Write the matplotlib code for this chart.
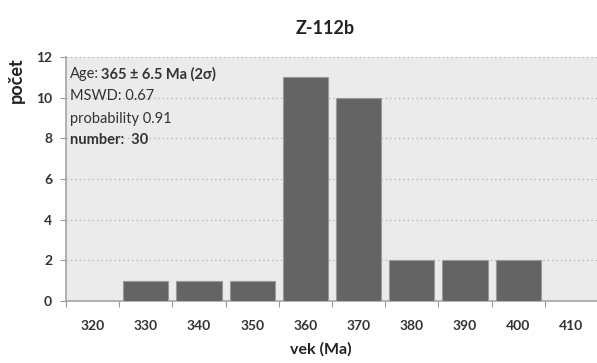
import matplotlib
matplotlib.use("Agg")
import matplotlib.pyplot as plt
import numpy as np

plt.rcParams['font.family'] = ['Lato', 'DejaVu Sans']

# Age bins (Ma) and zircon counts per bin
ages = [320, 330, 340, 350, 360, 370, 380, 390, 400, 410]
counts = [0, 1, 1, 1, 11, 10, 2, 2, 2, 0]
yticks = [0, 2, 4, 6, 8, 10, 12]

title = "Z-112b"
xlabel = "vek (Ma)"
ylabel = "počet"

fig = plt.figure(figsize=(5.97, 3.63), dpi=100)
ax = fig.add_axes([66/597, 1 - 301/363, 532/597, (301 - 57)/363])
ax.set_facecolor('#ebebeb')

pos = np.arange(len(ages))
ax.bar(pos, counts, width=0.85, color='#646464', edgecolor='#9a9a9a',
       linewidth=0.8, zorder=3)

ax.set_xlim(-0.5, len(ages) - 0.5)
ax.set_ylim(0, 12)

# category labels centred, tick marks on category boundaries
ax.set_xticks(pos)
ax.set_xticklabels([str(a) for a in ages], fontsize=10, fontweight='bold',
                   color='#333333')
ax.tick_params(axis='x', which='major', length=0, pad=14)
ax.set_xticks(np.arange(-0.5, len(ages)), minor=True)
ax.tick_params(axis='x', which='minor', length=4, width=0.8, color='#9a9a9a',
               direction='out')

ax.set_yticks(yticks)
ax.set_yticklabels([str(t) for t in yticks], fontsize=10, fontweight='bold',
                   color='#333333')
ax.tick_params(axis='y', length=4, width=0.8, color='#9a9a9a', pad=6)

ax.grid(axis='y', linestyle=(0, (1, 2.5)), color='#b0b0b0', linewidth=0.9,
        zorder=1)

for s in ['top', 'right']:
    ax.spines[s].set_visible(False)
for s in ['left', 'bottom']:
    ax.spines[s].set_color('#a5a5a5')
    ax.spines[s].set_linewidth(1.2)

fig.text(0.545, 1 - 28/363, title, ha='center', va='center', fontsize=13,
         fontweight='bold', color='#222222')
fig.text(0.538, 1 - 349/363, xlabel, ha='center', va='center', fontsize=11.5,
         fontweight='bold', color='#222222')
fig.text(16/597, 1 - 80/363, ylabel, ha='center', va='center', rotation=90,
         fontsize=13, fontweight='bold', color='#222222')

# statistics box text
tc = '#333333'
tx = 0.008
fs = 10.5
t1 = ax.text(tx, 11.16, "Age:", fontsize=fs, color=tc, va='center',
             ha='left', transform=ax.get_yaxis_transform(), zorder=5)
ax.annotate("365 ± 6.5 Ma (2σ)", xy=(1, 0.5), xycoords=t1, xytext=(1, 0),
            textcoords='offset points', fontsize=fs, fontweight='bold',
            color=tc, va='center', ha='left', zorder=5)
ax.text(tx, 10.07, "MSWD: 0.67", fontsize=fs, color=tc, va='center',
        ha='left', transform=ax.get_yaxis_transform(), zorder=5)
ax.text(tx, 8.94, "probability 0.91", fontsize=fs, color=tc, va='center',
        ha='left', transform=ax.get_yaxis_transform(), zorder=5)
ax.text(tx, 7.9, "number:  30", fontsize=fs, fontweight='bold', color=tc,
        va='center', ha='left', transform=ax.get_yaxis_transform(), zorder=5)

fig.savefig("out.png", dpi=100, facecolor='white')
